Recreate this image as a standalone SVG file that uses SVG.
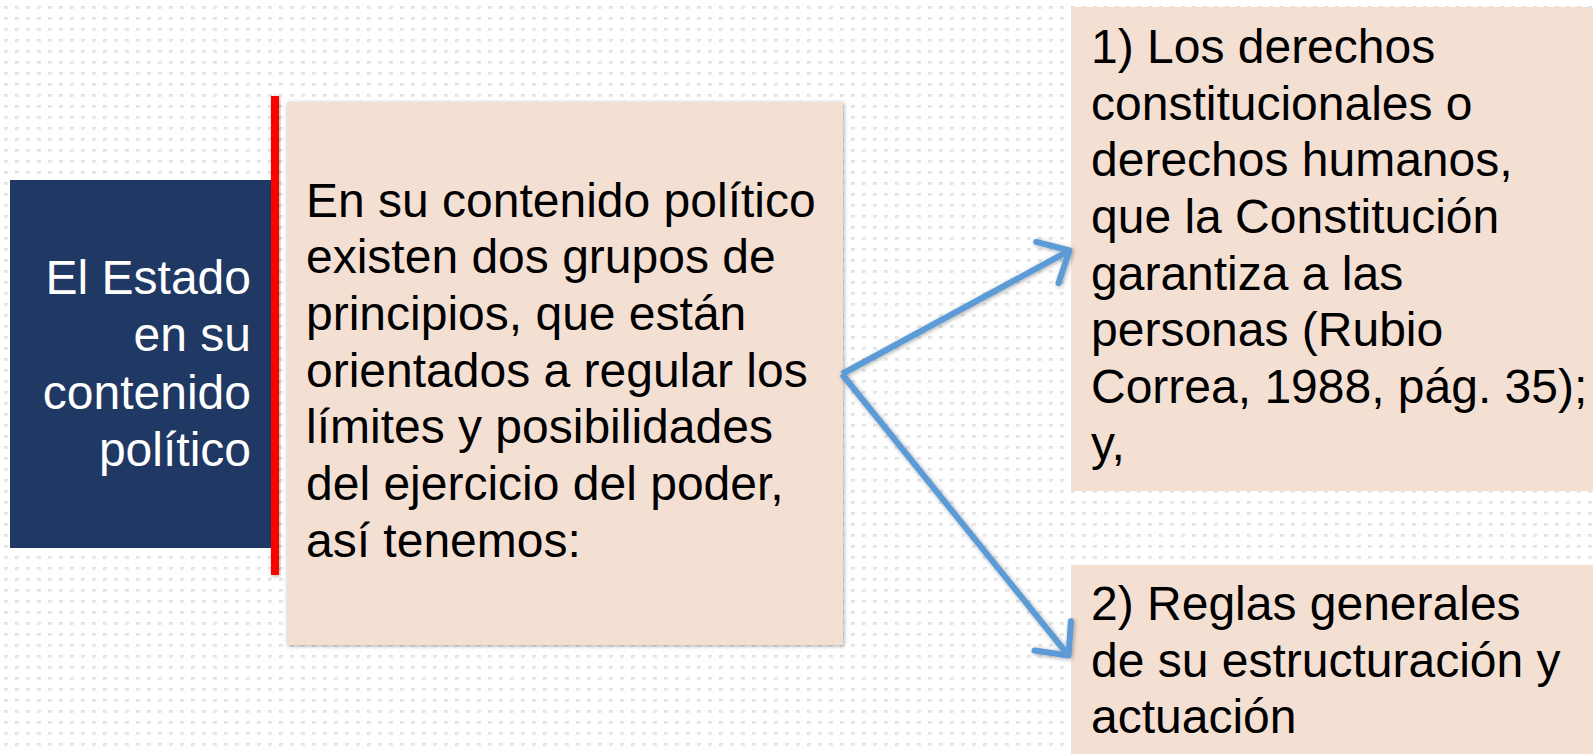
<svg xmlns="http://www.w3.org/2000/svg" width="1593" height="754" viewBox="0 0 1593 754">
  <defs>
    <pattern id="dots" x="0" y="0" width="11" height="11" patternUnits="userSpaceOnUse">
      <rect x="4" y="6" width="4" height="3" fill="#e0e0e0"/>
      <rect x="5" y="7" width="3" height="2" fill="#ebebeb"/>
    </pattern>
    <filter id="shadow" x="-20%" y="-20%" width="140%" height="140%">
      <feGaussianBlur in="SourceAlpha" stdDeviation="2"/>
      <feOffset dx="1" dy="1" result="b"/>
      <feComponentTransfer><feFuncA type="linear" slope="0.35"/></feComponentTransfer>
      <feMerge><feMergeNode/><feMergeNode in="SourceGraphic"/></feMerge>
    </filter>
    <marker id="open" viewBox="-6 -6 8 12" refX="0" refY="0" markerWidth="8" markerHeight="12" markerUnits="strokeWidth" orient="auto" overflow="visible">
      <path d="M -4.2 -3.9 L 0 0 L -4.2 3.9" fill="none" stroke="#5b9bd5" stroke-width="1" stroke-linecap="round" stroke-linejoin="round"/>
    </marker>
    <style>
      .txt { font-family: "Liberation Sans", Arial, sans-serif; font-size: 48px; }
      .dark { fill: #203864; }
      .pink { fill: #f4dfd3; }
      .white { fill: #ffffff; }
      .black { fill: #000000; }
      .end { text-anchor: end; }
      .arrow { fill: none; stroke: #5b9bd5; stroke-width: 6; stroke-linecap: butt; marker-end: url(#open); }
    </style>
  </defs>

  <rect x="0" y="0" width="1593" height="754" fill="#ffffff"/>
  <rect x="0" y="0" width="1593" height="754" fill="url(#dots)"/>

  <g id="node-estado">
    <rect x="10" y="180" width="262" height="368" class="dark"/>
    <text class="txt white end" x="251" y="293.5">El Estado</text>
    <text class="txt white end" x="251" y="351">en su</text>
    <text class="txt white end" x="251" y="408.5">contenido</text>
    <text class="txt white end" x="251" y="466">político</text>
  </g>

  <g id="divider">
    <rect x="271" y="96" width="8" height="479" fill="#ff0000" filter="url(#shadow)"/>
  </g>

  <g id="node-contenido">
    <rect x="287" y="102" width="556" height="543" class="pink" filter="url(#shadow)"/>
    <text class="txt black">
      <tspan x="306" y="216.7">En su contenido político</tspan>
      <tspan x="306" y="273.4">existen dos grupos de</tspan>
      <tspan x="306" y="330">principios, que están</tspan>
      <tspan x="306" y="386.7">orientados a regular los</tspan>
      <tspan x="306" y="443.4">límites y posibilidades</tspan>
      <tspan x="306" y="500">del ejercicio del poder,</tspan>
      <tspan x="306" y="556.7">así tenemos:</tspan>
    </text>
  </g>

  <g id="node-derechos">
    <rect x="1071" y="7" width="530" height="484" class="pink"/>
    <text class="txt black">
      <tspan x="1091" y="63">1) Los derechos</tspan>
      <tspan x="1091" y="119.7">constitucionales o</tspan>
      <tspan x="1091" y="176.4">derechos humanos,</tspan>
      <tspan x="1091" y="233">que la Constitución</tspan>
      <tspan x="1091" y="289.7">garantiza a las</tspan>
      <tspan x="1091" y="346.4">personas (Rubio</tspan>
      <tspan x="1091" y="403">Correa, 1988, pág. 35);</tspan>
      <tspan x="1091" y="459.7">y,</tspan>
    </text>
  </g>

  <g id="node-reglas">
    <rect x="1071" y="565" width="530" height="200" class="pink"/>
    <text class="txt black">
      <tspan x="1091" y="620">2) Reglas generales</tspan>
      <tspan x="1091" y="676.7">de su estructuración y</tspan>
      <tspan x="1091" y="733.4">actuación</tspan>
    </text>
  </g>

  <g id="connectors" filter="url(#shadow)">
    <line class="arrow" x1="842" y1="374" x2="1069.5" y2="250.5"/>
    <line class="arrow" x1="842" y1="374" x2="1068.5" y2="655.5"/>
  </g>
</svg>
